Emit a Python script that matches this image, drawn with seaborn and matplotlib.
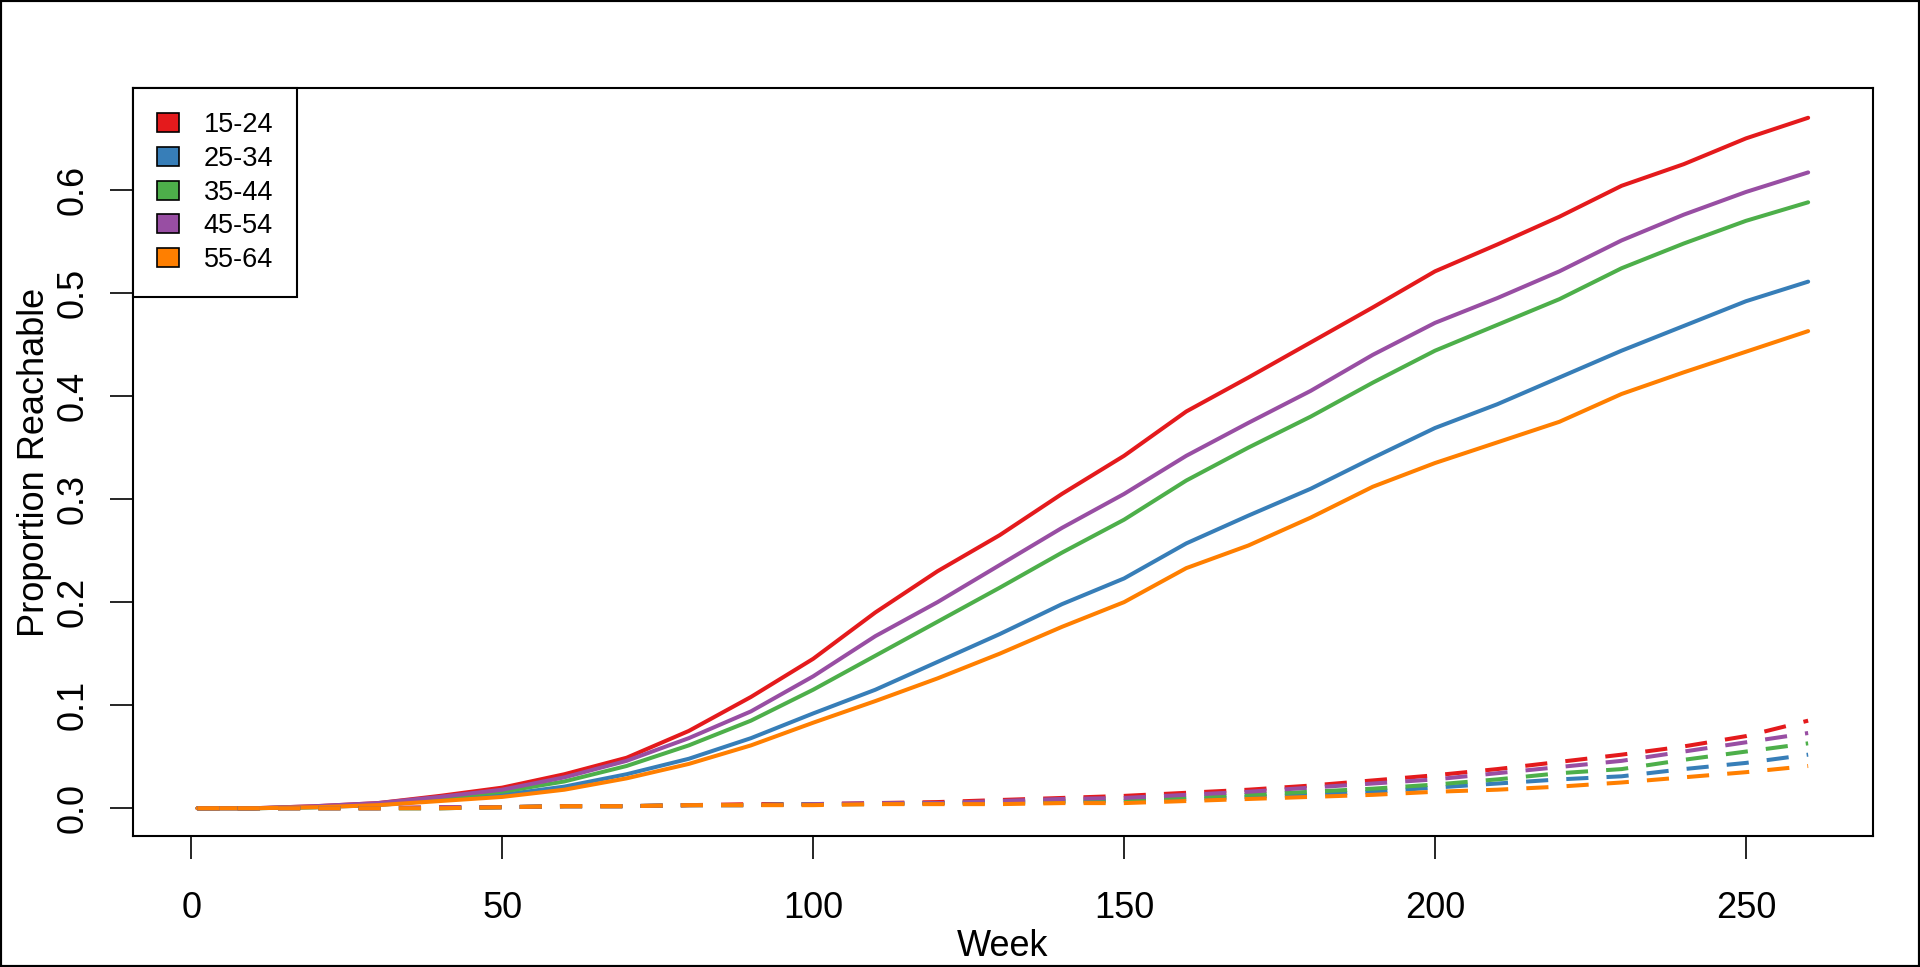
import numpy as np
import pandas as pd
import matplotlib
matplotlib.use('Agg')
import matplotlib.pyplot as plt
from matplotlib.patches import Patch, Rectangle
import seaborn as sns

# ── data ─────────────────────────────────────────────────────────────────────

WEEKS = [1, 10, 20, 30, 40, 50, 60, 70, 80, 90, 100, 110, 120, 130,
         140, 150, 160, 170, 180, 190, 200, 210, 220, 230, 240, 250, 260]
AGE_GROUPS = ['15-24', '25-34', '35-44', '45-54', '55-64']
COLORS = ['#E41A1C', '#377EB8', '#4DAF4A', '#984EA3', '#FF7F00']

# solid lines
SOLID_15_24 = [0.000, 0.000, 0.002, 0.005, 0.012, 0.020, 0.033, 0.049, 0.075, 0.108,
               0.145, 0.190, 0.230, 0.265, 0.305, 0.342, 0.385, 0.418, 0.452, 0.486,
               0.521, 0.547, 0.574, 0.604, 0.625, 0.650, 0.670]
SOLID_25_34 = [0.000, 0.000, 0.001, 0.003, 0.008, 0.013, 0.021, 0.033, 0.048, 0.068,
               0.092, 0.115, 0.142, 0.169, 0.198, 0.223, 0.257, 0.284, 0.310, 0.340,
               0.369, 0.392, 0.418, 0.444, 0.468, 0.492, 0.511]
SOLID_35_44 = [0.000, 0.000, 0.001, 0.004, 0.010, 0.016, 0.026, 0.041, 0.061, 0.085,
               0.115, 0.148, 0.181, 0.214, 0.248, 0.280, 0.318, 0.350, 0.380, 0.413,
               0.444, 0.469, 0.494, 0.524, 0.548, 0.570, 0.588]
SOLID_45_54 = [0.000, 0.000, 0.002, 0.005, 0.011, 0.018, 0.030, 0.046, 0.068, 0.094,
               0.128, 0.167, 0.200, 0.236, 0.272, 0.305, 0.342, 0.374, 0.405, 0.440,
               0.471, 0.495, 0.521, 0.551, 0.576, 0.598, 0.617]
SOLID_55_64 = [0.000, 0.000, 0.001, 0.003, 0.007, 0.011, 0.018, 0.029, 0.043, 0.061,
               0.083, 0.104, 0.126, 0.150, 0.176, 0.200, 0.233, 0.255, 0.282, 0.312,
               0.335, 0.355, 0.375, 0.402, 0.423, 0.443, 0.463]

# dashed lines
DASHED_15_24 = [0.000, 0.000, 0.000, 0.000, 0.001, 0.001, 0.002, 0.002, 0.003, 0.004,
                0.004, 0.005, 0.006, 0.008, 0.010, 0.012, 0.015, 0.018, 0.022, 0.027,
                0.032, 0.038, 0.045, 0.052, 0.060, 0.070, 0.085]
DASHED_25_34 = [0.000, 0.000, 0.000, 0.000, 0.000, 0.001, 0.002, 0.002, 0.003, 0.003,
                0.004, 0.004, 0.005, 0.005, 0.006, 0.007, 0.009, 0.011, 0.013, 0.016,
                0.020, 0.024, 0.028, 0.031, 0.038, 0.044, 0.052]
DASHED_35_44 = [0.000, 0.000, 0.000, 0.000, 0.000, 0.001, 0.002, 0.002, 0.003, 0.003,
                0.004, 0.004, 0.005, 0.006, 0.007, 0.008, 0.011, 0.013, 0.016, 0.019,
                0.023, 0.028, 0.034, 0.038, 0.047, 0.055, 0.063]
DASHED_45_54 = [0.000, 0.000, 0.000, 0.000, 0.001, 0.001, 0.002, 0.002, 0.003, 0.003,
                0.004, 0.005, 0.005, 0.007, 0.009, 0.010, 0.013, 0.016, 0.020, 0.024,
                0.028, 0.034, 0.040, 0.046, 0.055, 0.064, 0.073]
DASHED_55_64 = [0.000, 0.000, 0.000, 0.000, 0.000, 0.001, 0.002, 0.002, 0.003, 0.003,
                0.003, 0.004, 0.004, 0.004, 0.005, 0.005, 0.007, 0.009, 0.011, 0.013,
                0.016, 0.018, 0.021, 0.025, 0.030, 0.035, 0.041]

SOLID = [SOLID_15_24, SOLID_25_34, SOLID_35_44, SOLID_45_54, SOLID_55_64]
DASHED = [DASHED_15_24, DASHED_25_34, DASHED_35_44, DASHED_45_54, DASHED_55_64]

X_TICKS = [0, 50, 100, 150, 200, 250]
Y_TICKS = [0.0, 0.1, 0.2, 0.3, 0.4, 0.5, 0.6]

# ── long table for seaborn ───────────────────────────────────────────────────

rows = []
for age, solid, dashed in zip(AGE_GROUPS, SOLID, DASHED):
    for w, s, d in zip(WEEKS, solid, dashed):
        rows.append({'week': w, 'value': s, 'age': age, 'kind': 'solid'})
        rows.append({'week': w, 'value': d, 'age': age, 'kind': 'dashed'})
df = pd.DataFrame(rows)

# ── plot ─────────────────────────────────────────────────────────────────────

sns.set_style('white')
plt.rcParams['font.family'] = ['Liberation Sans', 'DejaVu Sans']
plt.rcParams['text.color'] = 'black'
plt.rcParams['axes.labelcolor'] = 'black'
plt.rcParams['xtick.color'] = 'black'
plt.rcParams['ytick.color'] = 'black'

fig = plt.figure(figsize=(19.2, 9.67), dpi=100)
ax = fig.add_axes([0.0693, 0.1355, 0.906, 0.7735])

palette = dict(zip(AGE_GROUPS, COLORS))
sns.lineplot(data=df[df['kind'] == 'solid'], x='week', y='value', hue='age',
             hue_order=AGE_GROUPS, palette=palette, estimator=None, sort=False,
             linewidth=2.9, legend=False, ax=ax)
sns.lineplot(data=df[df['kind'] == 'dashed'], x='week', y='value', hue='age',
             hue_order=AGE_GROUPS, palette=palette, estimator=None, sort=False,
             linewidth=2.9, legend=False, ax=ax)
for line in ax.lines[len(AGE_GROUPS):]:
    line.set_dashes((5.5, 4.5))

ax.set_xlim(-9.36, 270.36)
ax.set_ylim(-0.0269, 0.6989)
ax.set_xticks(X_TICKS)
ax.set_xticklabels([str(t) for t in X_TICKS])
ax.set_yticks(Y_TICKS)
ax.set_yticklabels([f'{t:.1f}' for t in Y_TICKS], rotation=90, va='center')
ax.tick_params(axis='both', direction='out', length=16.5, width=1.2,
               color='black', labelcolor='black', labelsize=26,
               bottom=True, left=True)
ax.tick_params(axis='x', pad=23)
ax.tick_params(axis='y', pad=14)
ax.set_xlabel('Week', fontsize=26, labelpad=2)
ax.set_ylabel('Proportion Reachable', fontsize=26, labelpad=3)

for sp in ax.spines.values():
    sp.set_visible(True)
    sp.set_color('black')
    sp.set_linewidth(1.5)

handles = [Patch(facecolor=c, edgecolor='black', linewidth=1.2) for c in COLORS]
leg = ax.legend(handles, AGE_GROUPS, loc='upper left', borderaxespad=0,
                fontsize=19.5, frameon=True, fancybox=False, framealpha=1,
                edgecolor='black', handlelength=0.8, handleheight=0.7,
                handletextpad=0.9, labelspacing=0.28, borderpad=0.9)
leg.get_frame().set_linewidth(1.5)

# frame around the whole figure
fig.patches.append(Rectangle((0, 0), 1, 1, transform=fig.transFigure,
                             fill=False, edgecolor='black', linewidth=3))

fig.savefig('out.png', dpi=100)
